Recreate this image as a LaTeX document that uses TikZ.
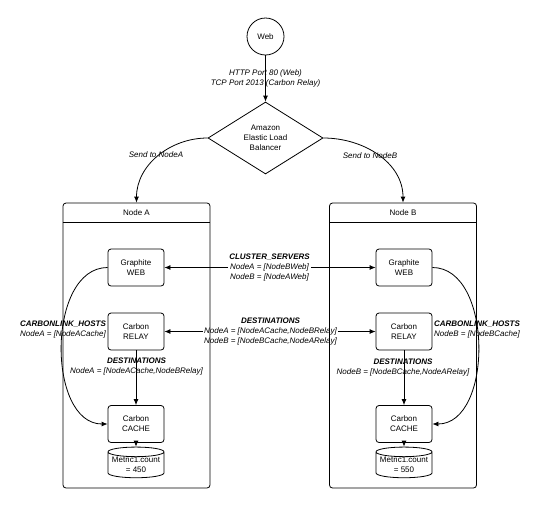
\documentclass[tikz,border=0pt]{standalone}
\usepackage{fontspec}
\setmainfont{Liberation Sans}
\usetikzlibrary{arrows.meta, shapes.geometric}

\begin{document}
\begin{tikzpicture}
      [x=1pt, y=-1pt,
      font=\fontsize{8}{10}\selectfont,
      box/.style={rectangle, rounded corners=3pt, draw=black, line width=0.8pt, minimum width=56pt, minimum height=37pt, align=center, inner sep=1pt},
      group/.style={rectangle, rounded corners=3pt, draw=black, line width=0.8pt, minimum width=147pt, minimum height=285pt},
      store/.style={cylinder, shape border rotate=90, aspect=0.2, draw=black, line width=0.8pt, minimum width=56pt, minimum height=27pt, align=center, inner sep=0pt},
      note/.style={align=center, inner sep=1pt, font=\fontsize{8}{10}\selectfont\itshape},
      arr/.style={-{Latex[length=6pt,width=5pt]}, line width=0.8pt}]
      \useasboundingbox (0,0) rectangle (540,507);
      \node (nodeA) at (136.5,345.5) [group] {};
      \node (nodeB) at (403,345.5) [group] {};
      \draw[line width=0.8pt] (nodeA.west |- 0,222) -- (nodeA.east |- 0,222);
      \draw[line width=0.8pt] (nodeB.west |- 0,222) -- (nodeB.east |- 0,222);
      \node (titleA) at (136.5,212.5) {Node A};
      \node (titleB) at (403,212.5) {Node B};
      \node (elb) at (265.5,138) [diamond, draw=black, line width=0.8pt, minimum width=115pt, minimum height=72pt, inner sep=0pt, align=center] {Amazon\\Elastic Load\\Balancer};
      \node (web) at (265.5,36.5) [circle, draw=black, line width=0.8pt, minimum size=37pt, inner sep=0pt] {Web}
      edge[arr] (elb);
      \node (ports) at (265.5,78.5) [note] {HTTP Port 80 (Web)\\TCP Port 2013 (Carbon Relay)};
      \draw[arr] (elb.west) to[out=180, in=90] (nodeA.north);
      \draw[arr] (elb.east) to[out=0, in=90] (nodeB.north);
      \node (sendA) at (156,155) [note] {Send to NodeA};
      \node (sendB) at (370,156) [note] {Send to NodeB};
      \node (metricA) at (136,465) [store] {Metric1.count\\= 450};
      \node (cacheA) at (136,424) [box] {Carbon\\CACHE}
      edge[arr] (metricA);
      \node (relayA) at (136,331.5) [box] {Carbon\\RELAY}
      edge[arr] (cacheA);
      \node (webA) at (136,267.5) [box] {Graphite\\WEB}
      edge[arr, out=180, in=180] (cacheA);
      \node (metricB) at (404,465) [store] {Metric1.count\\= 550};
      \node (cacheB) at (404,424) [box] {Carbon\\CACHE}
      edge[arr] (metricB);
      \node (relayB) at (404,331.5) [box] {Carbon\\RELAY}
      edge[arr] (cacheB);
      \node (webB) at (404,267.5) [box] {Graphite\\WEB}
      edge[arr, out=0, in=0] (cacheB);
      \node (clusters) at (269.5,268) [note] {\textbf{CLUSTER\_SERVERS}\\NodeA = [NodeBWeb]\\NodeB = [NodeAWeb]};
      \draw[arr] (clusters.west |- webA) -- (webA);
      \draw[arr] (clusters.east |- webB) -- (webB);
      \node (dests) at (270.5,332) [note] {\textbf{DESTINATIONS}\\NodeA = [NodeACache,NodeBRelay]\\NodeB = [NodeBCache,NodeARelay]};
      \draw[arr] (dests.west |- relayA) -- (relayA);
      \draw[arr] (dests.east |- relayB) -- (relayB);
      \node (hostsA) at (63,330) [note] {\textbf{CARBONLINK\_HOSTS}\\NodeA = [NodeACache]};
      \node (hostsB) at (477,330) [note] {\textbf{CARBONLINK\_HOSTS}\\NodeB = [NodeBCache]};
      \node (destA) at (136.5,367) [note] {\textbf{DESTINATIONS}\\NodeA = [NodeACache,NodeBRelay]};
      \node (destB) at (403,368) [note] {\textbf{DESTINATIONS}\\NodeB = [NodeBCache,NodeARelay]};
    \end{tikzpicture}
\end{document}
